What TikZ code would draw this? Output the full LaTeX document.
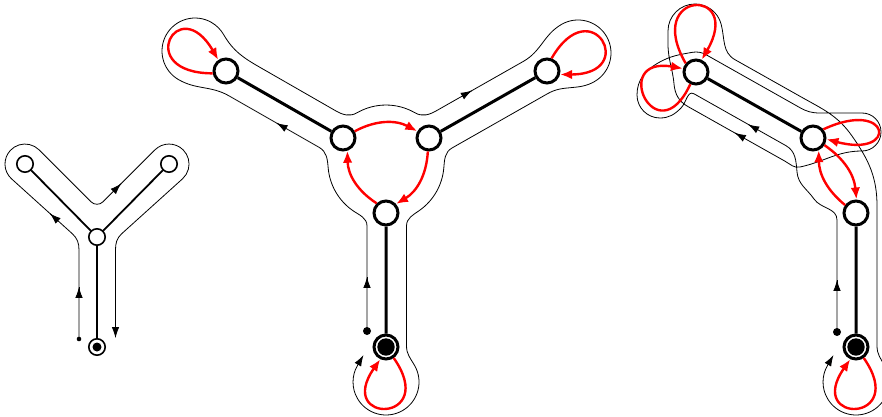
\documentclass[tikz,border=0pt]{standalone}
\usetikzlibrary{arrows.meta}
\tikzset{
    vtx/.style={circle,draw,fill=white,line width=3pt,minimum size=24pt,inner sep=0pt},
    svtx/.style={circle,draw,fill=white,line width=1.6pt,minimum size=16.4pt,inner sep=0pt},
    tourdot/.style={circle,fill,inner sep=0pt,minimum size=#1},
    bedge/.style={line width=3pt},
    sedge/.style={line width=1.8pt},
    redarr/.style={red,line width=2.4pt,-{Latex[length=12pt,width=9.5pt]}},
    tour/.style={line width=0.8pt},
    tourend/.style={tour,-{Latex[length=11pt,width=7.5pt]}}
}
\newcommand{\rootv}[5]{
    \node[#4] (#1) at (#2,#3) {};
    \fill (#1) circle (#5);
}
\newcommand{\tourtip}[2]{
    \draw[tourend] #1 -- ++(#2:0.1pt);
}

\begin{document}
\begin{tikzpicture}[x=1pt,y=1pt]
    \useasboundingbox (0,0) rectangle (882,416);

    % small tree
    \rootv{s0}{97}{69}{svtx}{4.5pt}
    \node[svtx] (sc) at (97,179) {};
    \node[svtx] (sl) at (25,252) {};
    \node[svtx] (sr) at (169,252) {};
    \node[tourdot=4.6pt] (d0) at (79,77) {};
    \draw[sedge] (s0) -- (sc) (sc) -- (sl) (sc) -- (sr);
    \draw[tourend] (d0.center) -- (79,166) to[out=90,in=-42.8] (72.4,182.2) -- (11.4,237.3)
        arc[start angle=227.2,end angle=45,radius=20pt] -- (91,214.2)
        to[out=-45,in=-135] (103,214.2) -- (154.9,266.1)
        arc[start angle=135,end angle=-47.2,radius=20pt] -- (121.6,182.2)
        to[out=-137.2,in=90] (115.5,166) -- (115.5,78);
    \tourtip{(79,129)}{90}
    \tourtip{(50,202.4)}{137.9}
    \tourtip{(121,232.2)}{45}

    % middle tree
    \rootv{m0}{386}{69}{vtx}{8.7pt}
    \node[vtx] (ma) at (386,203) {};
    \node[vtx] (mb) at (343,278) {};
    \node[vtx] (mc) at (429,278) {};
    \node[vtx] (ml) at (226,345) {};
    \node[vtx] (mr) at (547,345) {};
    \node[tourdot=8pt] (d1) at (367,85) {};
    \draw[tourend] (d1.center) -- (367,190) to[out=90,in=-35] (352.7,205.5)
        arc[start angle=235,end angle=185,radius=58pt] to[out=95,in=-29.8] (319.2,268.6)
        -- (228.9,320.2) to[out=150.2,in=-30] (178.5,336.4)
        arc[start angle=240,end angle=30,radius=33pt] to[out=-60,in=150.2] (261.8,347.6)
        -- (335.5,305.3) to[out=-29.8,in=-150] (357,303.2)
        arc[start angle=120,end angle=60,radius=58pt] to[out=-30,in=-150.4] (436.5,305.3)
        -- (523.5,354.7) to[out=29.6,in=-150] (561.5,391.6)
        arc[start angle=120,end angle=-60,radius=33pt] to[out=-150,in=29.6] (547.7,322.4)
        -- (452,268) to[out=-150.4,in=85] (443.8,247.9)
        arc[start angle=-5,end angle=-55,radius=58pt] to[out=-145,in=90] (406.5,190)
        -- (406.5,70) to[out=-90,in=120] (414.6,50.5)
        arc[start angle=30,end angle=-210,radius=33pt] -- ++(60:12pt);
    \tourtip{(367,139)}{90}
    \tourtip{(276.7,292.9)}{150.2}
    \tourtip{(471.7,325.3)}{29.6}
    \draw[bedge] (m0) -- (ma) (mb) -- (ml) (mc) -- (mr);
    \draw[redarr] (mb.30) to[bend left=28] (mc.150);
    \draw[redarr] (mc.-95) to[bend left=28] (ma.42);
    \draw[redarr] (ma.134) to[bend left=28] (mb.-71);
    \draw[redarr] (ml.190) .. controls +(180:80pt) and +(120:80pt) .. (ml.125);
    \draw[redarr] (mr.70) .. controls +(60:80pt) and +(0:80pt) .. (mr.-15);
    \draw[redarr] (m0.-55) .. controls +(-55:80pt) and +(-125:80pt) .. (m0.-115);

    % right tree
    \rootv{n0}{856}{69}{vtx}{8.7pt}
    \node[vtx] (nd) at (856,203) {};
    \node[vtx] (ne) at (813,278) {};
    \node[vtx] (nf) at (696,344) {};
    \node[tourdot=8pt] (d2) at (837,84) {};
    \draw[tourend] (d2.center) -- (837,196) to[out=90,in=-55] (814,217)
        to[out=125,in=-85] (797,244) to[out=95,in=-29.4] (786,270.3)
        -- (694,322.2) to[out=150.6,in=45] (681,308) to[out=-135,in=0] (660,298)
        to[out=180,in=-90] (637,321) to[out=90,in=-150] (658,353)
        to[out=30,in=190] (692.5,363.7) arc[start angle=100,end angle=60.6,radius=20pt]
        -- (799.8,308.4) to[out=-29.4,in=180] (820,303) -- (862,303)
        arc[start angle=90,end angle=-90,radius=19pt] to[out=180,in=12] (800,249)
        to[out=192,in=-29.4] (785,254.8) -- (688,309.4) to[out=150.6,in=-85] (674,332)
        to[out=95,in=-90] (668,372) -- (668,385) arc[start angle=180,end angle=15,radius=27pt]
        to[out=-75,in=150.6] (735,356.3) -- (801.6,318.8) to[out=-29.4,in=125] (852,280)
        to[out=-55,in=90] (877,210) -- (877,70) to[out=-90,in=120] (884.6,50.5)
        arc[start angle=30,end angle=-210,radius=33pt] -- ++(60:12pt);
    \tourtip{(837,136)}{90}
    \tourtip{(748.3,291.5)}{150.6}
    \tourtip{(735,283)}{150.6}
    \draw[bedge] (n0) -- (nd) (ne) -- (nf);
    \draw[redarr] (ne.-32) to[bend left=25] (nd.88);
    \draw[redarr] (nd.144) to[bend left=25] (ne.-65);
    \draw[redarr] (ne.40) .. controls +(25:75pt) and +(-15:75pt) .. (ne.-5);
    \draw[redarr] (nf.140) .. controls +(120:85pt) and +(60:85pt) .. (nf.65);
    \draw[redarr] (nf.-115) .. controls +(-115:80pt) and +(170:75pt) .. (nf.165);
    \draw[redarr] (n0.-55) .. controls +(-55:80pt) and +(-125:80pt) .. (n0.-115);
\end{tikzpicture}
\end{document}
